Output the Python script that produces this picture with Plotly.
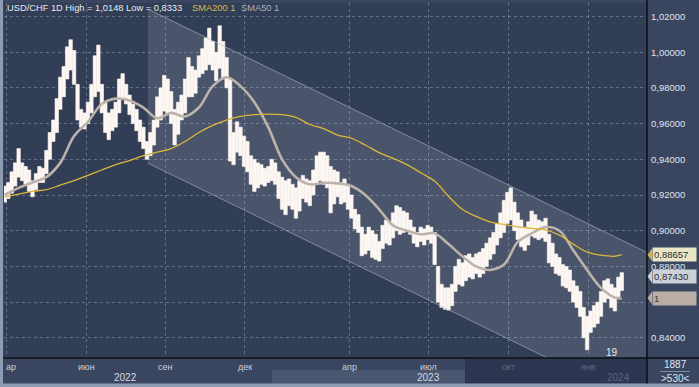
import plotly.graph_objects as go
import pandas as pd

# ---------------- data ----------------
price_dates = pd.date_range("2022-02-27", periods=179, freq="4D")

highs = [
    0.925, 0.927, 0.933, 0.938, 0.946, 0.938, 0.936, 0.934, 0.928, 0.932,
    0.936, 0.935, 0.945, 0.955, 0.962, 0.974, 0.986, 0.992, 1.003, 1.007,
    1.001, 0.982, 0.968, 0.966, 0.972, 0.982, 0.998, 1.004, 0.982, 0.972,
    0.966, 0.968, 0.972, 0.985, 0.988, 0.982, 0.976, 0.971, 0.968, 0.962,
    0.958, 0.950, 0.955, 0.962, 0.975, 0.980, 0.987, 0.985, 0.978, 0.968,
    0.972, 0.976, 0.985, 0.997, 0.992, 0.990, 0.998, 1.002, 1.008, 1.0135,
    1.006, 1.000, 1.0148, 1.006, 0.997, 0.985, 0.955, 0.961, 0.958, 0.953,
    0.950, 0.942, 0.940, 0.938, 0.937, 0.935, 0.936, 0.940, 0.938, 0.933,
    0.930, 0.928, 0.929, 0.926, 0.924, 0.928, 0.931, 0.929, 0.928, 0.934,
    0.942, 0.944, 0.944, 0.942, 0.936, 0.934, 0.933, 0.927, 0.929, 0.926,
    0.920, 0.912, 0.909, 0.902, 0.898, 0.902, 0.900, 0.898, 0.894, 0.903,
    0.906, 0.905, 0.910, 0.914, 0.913, 0.911, 0.910, 0.906, 0.902, 0.899,
    0.902, 0.901, 0.903, 0.902, 0.899, 0.880, 0.870, 0.868, 0.868, 0.870,
    0.880, 0.884, 0.882, 0.886, 0.887, 0.885, 0.887, 0.888, 0.890, 0.893,
    0.896, 0.899, 0.904, 0.910, 0.917, 0.9215, 0.924, 0.916, 0.910, 0.906,
    0.902, 0.905, 0.911, 0.909, 0.906, 0.905, 0.907, 0.898, 0.893, 0.887,
    0.885, 0.881, 0.880, 0.878, 0.872, 0.869, 0.866, 0.857, 0.852, 0.855,
    0.858, 0.860, 0.866, 0.872, 0.873, 0.870, 0.868, 0.874, 0.8765,
]

lows = [
    0.916, 0.918, 0.921, 0.925, 0.930, 0.928, 0.926, 0.922, 0.919, 0.923,
    0.927, 0.927, 0.932, 0.940, 0.950, 0.955, 0.968, 0.975, 0.985, 0.990,
    0.982, 0.962, 0.958, 0.957, 0.960, 0.966, 0.975, 0.978, 0.966, 0.955,
    0.951, 0.956, 0.958, 0.966, 0.974, 0.971, 0.965, 0.960, 0.956, 0.950,
    0.946, 0.940, 0.942, 0.948, 0.958, 0.962, 0.967, 0.965, 0.960, 0.948,
    0.954, 0.962, 0.966, 0.975, 0.975, 0.977, 0.986, 0.988, 0.990, 0.993,
    0.990, 0.984, 0.991, 0.985, 0.980, 0.939, 0.937, 0.944, 0.942, 0.936,
    0.933, 0.926, 0.922, 0.924, 0.926, 0.925, 0.927, 0.928, 0.926, 0.918,
    0.912, 0.909, 0.914, 0.912, 0.907, 0.911, 0.918, 0.916, 0.914, 0.920,
    0.926, 0.928, 0.926, 0.924, 0.910, 0.915, 0.919, 0.915, 0.916, 0.912,
    0.907, 0.901, 0.899, 0.886, 0.887, 0.889, 0.885, 0.884, 0.883, 0.890,
    0.893, 0.892, 0.896, 0.900, 0.898, 0.899, 0.900, 0.898, 0.893, 0.891,
    0.894, 0.892, 0.895, 0.893, 0.881, 0.860, 0.857, 0.856, 0.8555, 0.858,
    0.866, 0.870, 0.869, 0.872, 0.874, 0.873, 0.876, 0.874, 0.876, 0.880,
    0.884, 0.887, 0.892, 0.896, 0.899, 0.904, 0.906, 0.900, 0.895, 0.891,
    0.889, 0.892, 0.897, 0.896, 0.895, 0.896, 0.894, 0.882, 0.880, 0.876,
    0.875, 0.869, 0.868, 0.866, 0.860, 0.857, 0.852, 0.840, 0.8333, 0.843,
    0.846, 0.848, 0.852, 0.860, 0.862, 0.857, 0.855, 0.863, 0.8665,
]

sma_dates = list(price_dates[::4]) + [price_dates[-1]]

sma50 = [
    0.920, 0.924, 0.927, 0.930, 0.938, 0.953, 0.961, 0.971, 0.974, 0.973,
    0.969, 0.963, 0.966, 0.964, 0.969, 0.981, 0.986, 0.981, 0.972, 0.958,
    0.940, 0.930, 0.926, 0.9268, 0.9265, 0.925, 0.920, 0.912, 0.903, 0.900,
    0.898, 0.8985, 0.8925, 0.8857, 0.880, 0.878, 0.881, 0.8937, 0.8985, 0.902,
    0.900, 0.889, 0.878, 0.868, 0.8625, 0.862,
]

sma200 = [
    0.919, 0.9205, 0.922, 0.923, 0.9255, 0.928, 0.931, 0.934, 0.937, 0.9393,
    0.942, 0.944, 0.946, 0.950, 0.955, 0.959, 0.962, 0.964, 0.965, 0.9653,
    0.965, 0.9635, 0.9595, 0.9572, 0.9536, 0.9518, 0.948, 0.9437, 0.9405, 0.937,
    0.9325, 0.9278, 0.9193, 0.912, 0.908, 0.905, 0.9035, 0.9022, 0.9013, 0.9005,
    0.8975, 0.8925, 0.888, 0.8863, 0.8857, 0.8866,
]

channel_dates = ["2022-08-11", "2024-03-09"]
channel_upper = [1.0242, 0.8878]
channel_lower = [0.9379, 0.8015]

y_ticks = [0.84, 0.86, 0.88, 0.90, 0.92, 0.94, 0.96, 0.98, 1.00, 1.02]
# 0.86 label is hidden behind the SMA50 price tag in the reference
y_tick_text = ["0,84000", "", "0,88000", "0,90000", "0,92000", "0,94000",
               "0,96000", "0,98000", "1,00000", "1,02000"]

month_dates = ["2022-03-01", "2022-06-01", "2022-09-01", "2022-12-01",
               "2023-04-01", "2023-07-01", "2023-10-01", "2024-01-01"]
month_labels = ["ар", "июн", "сен", "дек", "апр", "июл", "окт", "янв"]
year_dates = ["2022-07-16", "2023-07-01", "2024-02-05"]
year_labels = ["2022", "2023", "2024"]

last_close = 0.87430
last_sma200 = 0.88657
last_sma50 = 0.8623
last_sma50_label = "1"
title_text = "USD/CHF 1D High = 1,0148 Low = 0,8333"

# ---------------- layout helpers ----------------
W, H = 699, 387
L, R, T, B = 4, 52, 3, 29
PW, PH = W - L - R, H - T - B


def px(xp):
    return (xp - L) / PW


def py(yp):
    return (H - B - yp) / PH


FONT = "Liberation Sans, Arial, sans-serif"
GRID = "rgba(140,155,180,0.55)"

x0 = pd.Timestamp("2022-03-01") - pd.Timedelta(days=2.885)
x1 = pd.Timestamp("2022-03-01") + pd.Timedelta(days=739.08)

fig = go.Figure()

# channel
fig.add_trace(go.Scatter(
    x=channel_dates + channel_dates[::-1],
    y=channel_upper + channel_lower[::-1],
    fill="toself", fillcolor="rgba(255,255,255,0.12)",
    line=dict(width=0), mode="lines", hoverinfo="skip", showlegend=False))
for edge in (channel_upper, channel_lower):
    fig.add_trace(go.Scatter(
        x=channel_dates, y=edge, mode="lines",
        line=dict(color="rgba(175,185,200,0.6)", width=1),
        hoverinfo="skip", showlegend=False))

# price bars (high-low)
fig.add_trace(go.Bar(
    x=price_dates, y=[h - l for h, l in zip(highs, lows)], base=lows,
    width=4 * 86400000, marker=dict(color="#fdf6f2", line=dict(width=0.6, color="#fdf6f2")),
    showlegend=False, hoverinfo="skip"))

# moving averages
fig.add_trace(go.Scatter(
    x=sma_dates, y=sma50, mode="lines", line=dict(color="#bcb3aa", width=2.6, shape="spline"),
    showlegend=False, hoverinfo="skip"))
fig.add_trace(go.Scatter(
    x=sma_dates, y=sma200, mode="lines", line=dict(color="#dcb83a", width=1.3, shape="spline"),
    showlegend=False, hoverinfo="skip"))

shapes = [
    # bottom axis shading
    dict(type="rect", xref="paper", yref="paper", x0=px(272), x1=px(465), y0=py(383.5), y1=py(370),
         fillcolor="#4b5770", line=dict(width=0)),
    dict(type="rect", xref="paper", yref="paper", x0=px(465), x1=px(647), y0=py(383.5), y1=py(358),
         fillcolor="#2c3650", line=dict(width=0)),
    # frame borders
    dict(type="rect", xref="paper", yref="paper", x0=px(0), x1=px(3), y0=py(387), y1=py(0),
         fillcolor="#8e9cb2", line=dict(width=0)),
    dict(type="rect", xref="paper", yref="paper", x0=px(0), x1=px(699), y0=py(387), y1=py(383.5),
         fillcolor="#8e9cb2", line=dict(width=0)),
    # separators
    dict(type="line", xref="paper", yref="paper", x0=px(3), x1=px(699), y0=0, y1=0,
         line=dict(color="#0c0f16", width=1.5)),
    dict(type="line", xref="paper", yref="paper", x0=1, x1=1, y0=py(383.5), y1=py(0),
         line=dict(color="#0c0f16", width=1.5)),
    # small separator in bottom-right box
    dict(type="line", xref="paper", yref="paper", x0=px(660), x1=px(690), y0=py(371.5), y1=py(371.5),
         line=dict(color="#7d8ca4", width=1)),
]

# price-tag pointers
for val, col in ((last_sma200, "#c9b44c"), (last_close, "#ccd1d8"), (last_sma50, "#b8aea6")):
    shapes.append(dict(type="path", xref="paper", yref="y",
                       path=f"M {px(647.5)},{val} L {px(652)},{val + 0.0035} L {px(652)},{val - 0.0035} Z",
                       fillcolor=col, line=dict(width=0)))

annotations = [
    dict(text=title_text, xref="paper", yref="paper", x=px(5), y=py(8.5), xanchor="left", yanchor="middle",
         showarrow=False, font=dict(size=9.3, color="#e6ebf2", family=FONT)),
    dict(text="SMA200 1", xref="paper", yref="paper", x=px(190), y=py(8.5), xanchor="left", yanchor="middle",
         showarrow=False, font=dict(size=9.3, color="#d9b94a", family=FONT)),
    dict(text="SMA50 1", xref="paper", yref="paper", x=px(239), y=py(8.5), xanchor="left", yanchor="middle",
         showarrow=False, font=dict(size=9.3, color="#aab0b8", family=FONT)),
    dict(text="19", xref="paper", yref="paper", x=px(612), y=py(352.5), xanchor="center", yanchor="middle",
         showarrow=False, font=dict(size=10, color="#e8eaee", family=FONT)),
    dict(text="1887", xref="paper", yref="paper", x=px(675), y=py(364.5), xanchor="center", yanchor="middle",
         showarrow=False, font=dict(size=10, color="#dfe5ee", family=FONT)),
    dict(text=">530<", xref="paper", yref="paper", x=px(675), y=py(378), xanchor="center", yanchor="middle",
         showarrow=False, font=dict(size=10, color="#dfe5ee", family=FONT)),
]

faint = {"окт", "янв"}
for d, lab in zip(month_dates, month_labels):
    if lab == "ар":
        annotations.append(dict(text=lab, xref="paper", yref="paper", x=px(4), y=py(367), xanchor="left",
                                yanchor="middle", showarrow=False,
                                font=dict(size=9, color="#c9d1dc", family=FONT)))
    else:
        annotations.append(dict(text=lab, xref="x", yref="paper", x=d, y=py(367), xanchor="center",
                                yanchor="middle", showarrow=False,
                                font=dict(size=9, color="#5f6c84" if lab in faint else "#c9d1dc", family=FONT)))
for d, lab in zip(year_dates, year_labels):
    annotations.append(dict(text=lab, xref="x", yref="paper", x=d, y=py(377.5), xanchor="center",
                            yanchor="middle", showarrow=False,
                            font=dict(size=10, color="#59667d" if lab == "2024" else "#d3dae4", family=FONT)))

# price tags on the right axis
for val, text, bg, fg in ((last_sma200, "0,88657", "#e9e6c8", "#2a2a2a"),
                          (last_close, "0,87430", "#ccd1d8", "#2a2a2a"),
                          (last_sma50, last_sma50_label, "#b8aea6", "#3a3a3a")):
    annotations.append(dict(text=text, xref="paper", yref="y", x=px(652), y=val, xanchor="left",
                            yanchor="middle", showarrow=False, align="left", width=41, height=11,
                            bgcolor=bg, borderpad=1,
                            font=dict(size=9.5, color=fg, family=FONT)))

fig.update_layout(
    width=W, height=H, autosize=False,
    margin=dict(l=L, r=R, t=T, b=B, pad=0),
    paper_bgcolor="#3a4660", plot_bgcolor="#323d56",
    showlegend=False,
    barmode="overlay",
    font=dict(family=FONT, color="#dfe5ee"),
    xaxis=dict(type="date", range=[x0, x1], tickvals=month_dates, showticklabels=False,
               showgrid=True, gridcolor=GRID, griddash="3px,3px", gridwidth=1,
               zeroline=False, showline=False, ticks="", fixedrange=True),
    yaxis=dict(side="right", range=[0.82869, 1.02756], tickvals=y_ticks, ticktext=y_tick_text,
               showgrid=True, gridcolor=GRID, griddash="3px,3px", gridwidth=1,
               zeroline=False, showline=False, ticks="", ticklabelstandoff=3,
               tickfont=dict(size=9.5, color="#dfe5ee", family=FONT), fixedrange=True),
    shapes=shapes,
    annotations=annotations,
)

fig.write_html("out.html", config={"displayModeBar": False},
               post_script="document.body.style.margin='0';")
